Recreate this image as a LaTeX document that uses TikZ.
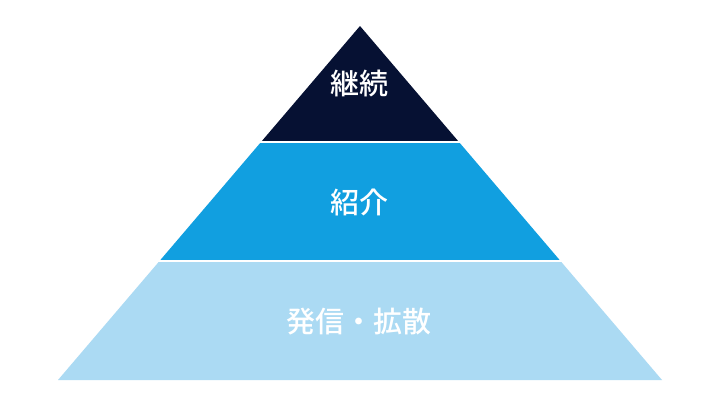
\documentclass[tikz,border=0pt]{standalone}
\usepackage{fontspec}
\newfontfamily\cjk{Noto Sans CJK JP Medium}
\usetikzlibrary{calc}
\definecolor{navy}{HTML}{061133}
\definecolor{midblue}{HTML}{119FE0}
\definecolor{lightblue}{HTML}{ABDAF3}
\tikzset{
  tiertext/.style={text=white, font=\cjk\fontsize{29}{33}\selectfont, inner sep=0pt},
  sep/.style={draw=white, line width=2.2pt}
}
\begin{document}
\begin{tikzpicture}[x=1pt,y=-1pt]
\useasboundingbox[fill=white] (0,0) rectangle (720,405);
\coordinate (A) at (360,26);
\coordinate (L) at (58,380);
\coordinate (R) at (662,380);
\coordinate (L1) at ($(A)!0.3277!(L)$);
\coordinate (R1) at ($(A)!0.3277!(R)$);
\coordinate (L2) at ($(A)!0.6638!(L)$);
\coordinate (R2) at ($(A)!0.6638!(R)$);
\fill[lightblue] (L2) -- (R2) -- (R) -- (L) -- cycle;
\fill[midblue] (L1) -- (R1) -- (R2) -- (L2) -- cycle;
\fill[navy] (A) -- (R1) -- (L1) -- cycle;
\draw[sep] ($(L1)+(-3,0)$) -- ($(R1)+(3,0)$);
\draw[sep] ($(L2)+(-3,0)$) -- ($(R2)+(3,0)$);
\node[tiertext] (t1) at (359,83) {継続};
\node[tiertext] (t2) at (359,202) {紹介};
\node[tiertext] (t3) at (359,322) {発信・拡散};
\end{tikzpicture}
\end{document}
